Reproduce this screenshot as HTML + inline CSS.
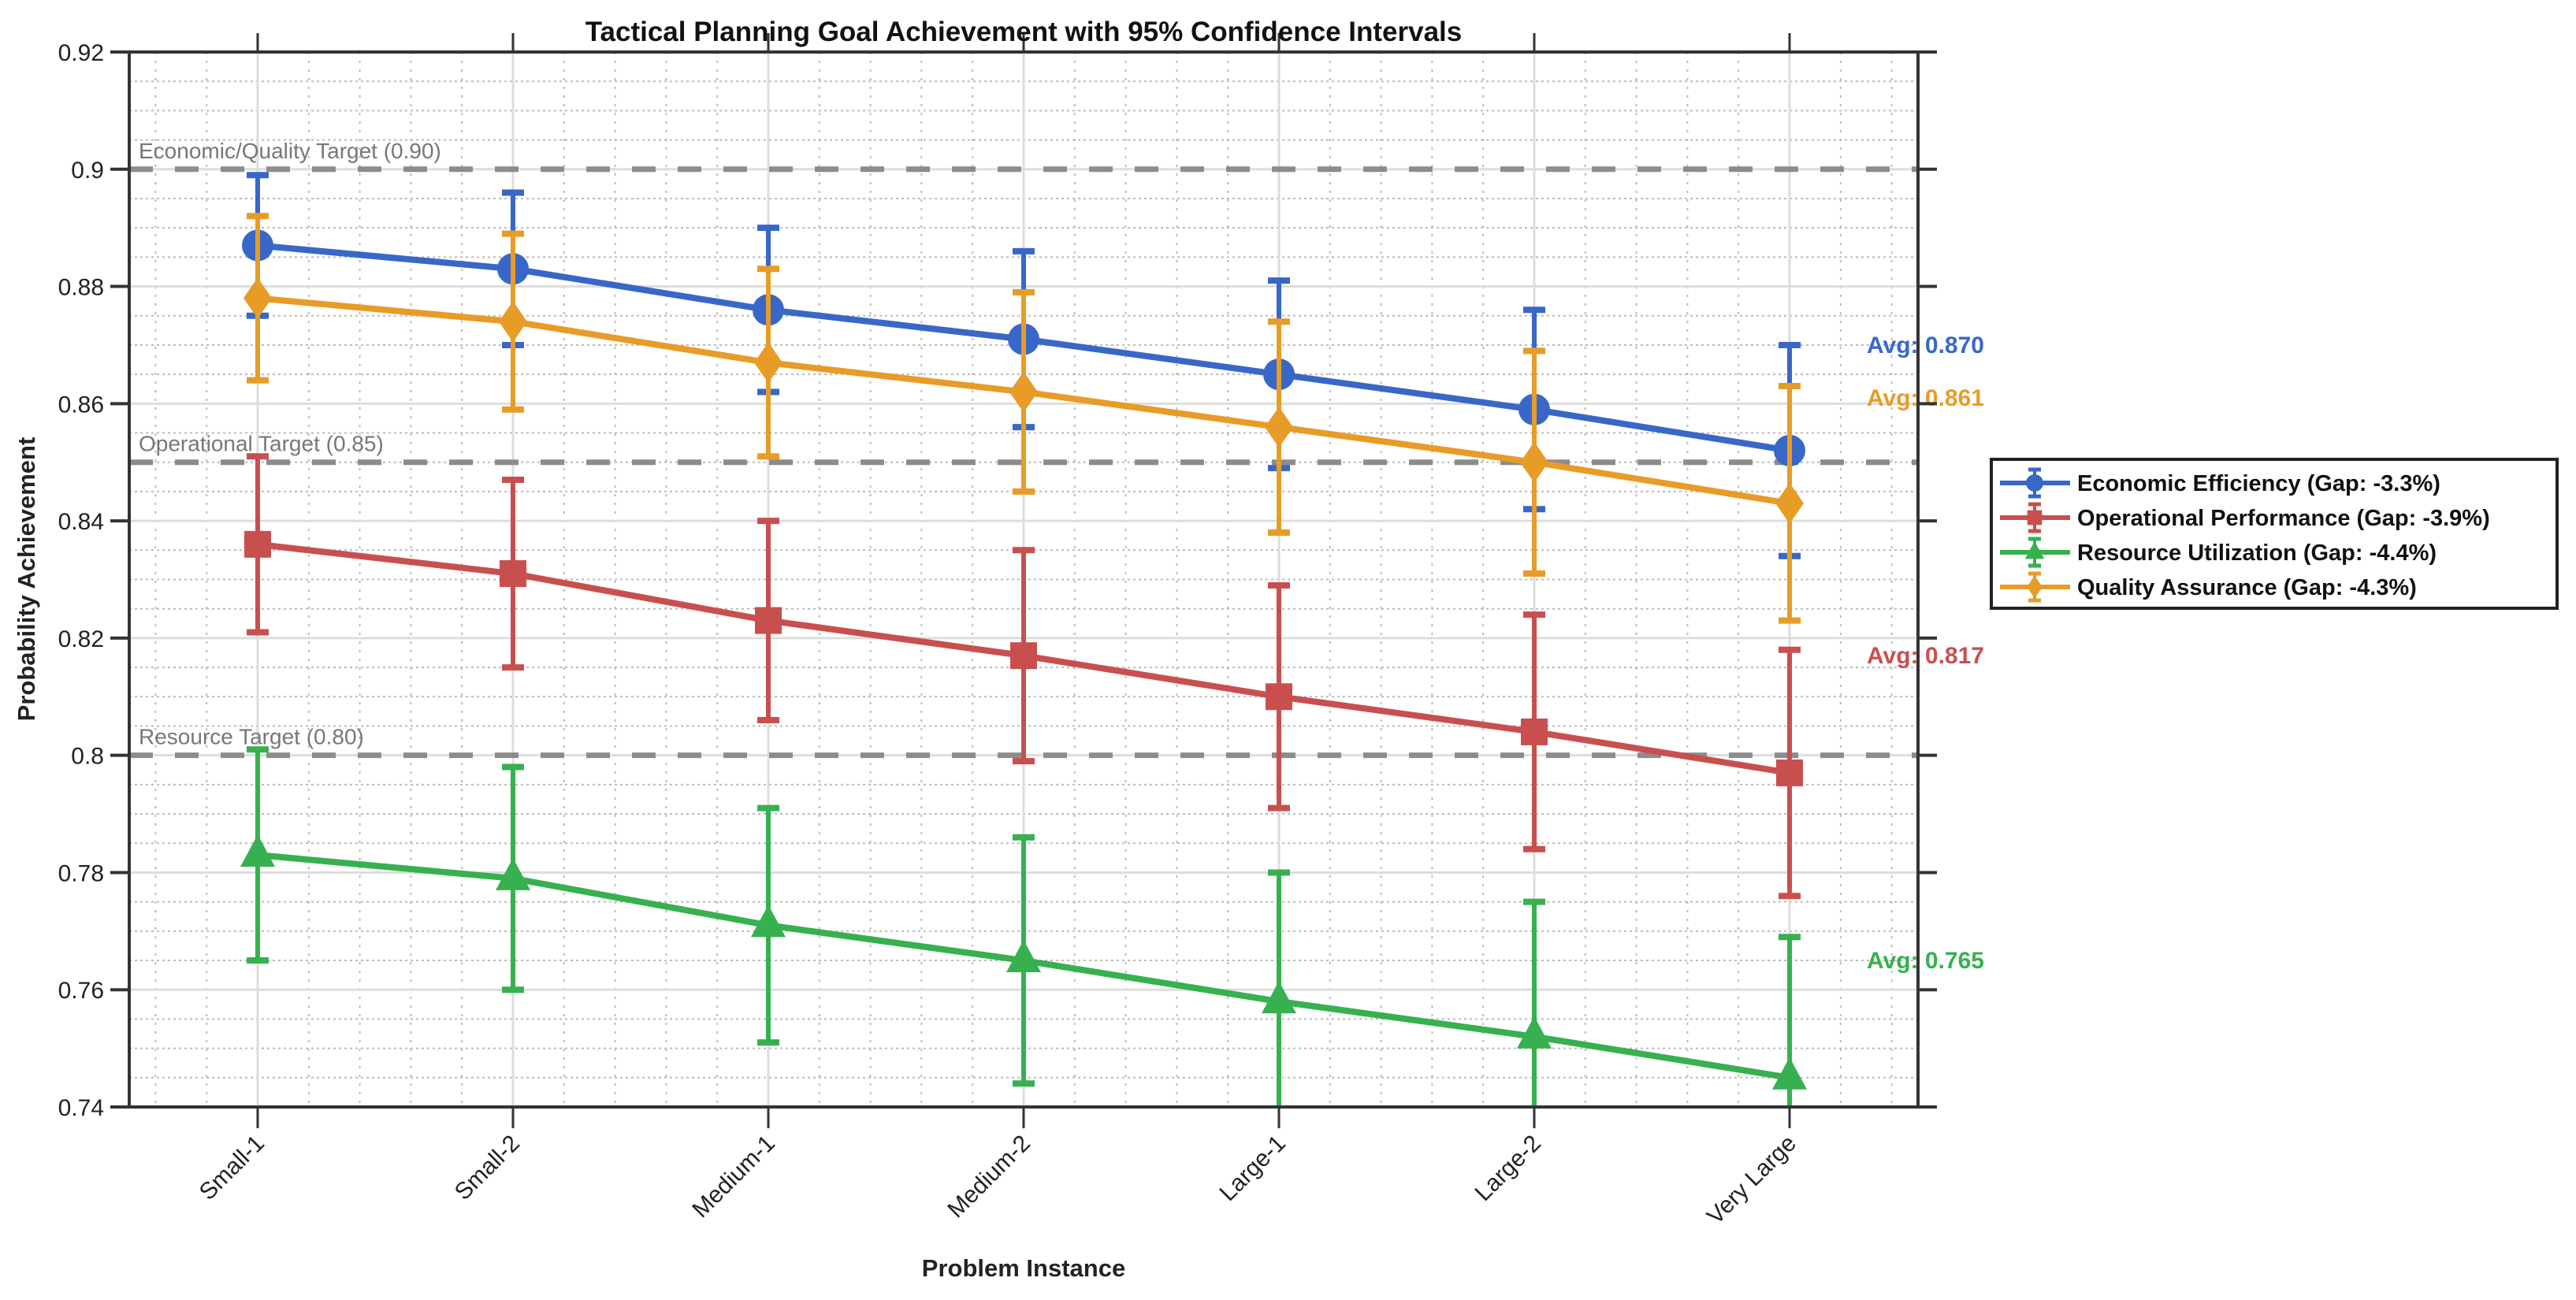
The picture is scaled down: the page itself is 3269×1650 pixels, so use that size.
<!DOCTYPE html>
<html><head><meta charset="utf-8"><style>
html,body{margin:0;padding:0;background:#fff}
svg{display:block;font-family:"Liberation Sans",Arial,sans-serif}
</style></head><body>
<svg id="chart" width="3269" height="1650" viewBox="0 0 3269 1650" xmlns="http://www.w3.org/2000/svg">
<rect width="3269" height="1650" fill="#fff"/>
<g id="grid"></g>
<g id="targets"></g>
<g id="series"></g>
<g id="axes"></g>
<text x="1299" y="52" font-size="35" font-weight="bold" text-anchor="middle" fill="#111">Tactical Planning Goal Achievement with 95% Confidence Intervals</text>
<text transform="translate(44,735) rotate(-90)" font-size="31" font-weight="bold" text-anchor="middle" fill="#222">Probability Achievement</text>
<text x="1299" y="1620" font-size="31" font-weight="bold" text-anchor="middle" fill="#222">Problem Instance</text>
<g id="legend"></g>
</svg>
<script>
const categories = ["Small-1","Small-2","Medium-1","Medium-2","Large-1","Large-2","Very Large"];
const yTicks = [0.74,0.76,0.78,0.8,0.82,0.84,0.86,0.88,0.9,0.92];
const yTickLabels = ["0.74","0.76","0.78","0.8","0.82","0.84","0.86","0.88","0.9","0.92"];
const econVals = [0.887,0.883,0.876,0.871,0.865,0.859,0.852];
const econHi = [0.899,0.896,0.890,0.886,0.881,0.876,0.870];
const econLo = [0.875,0.870,0.862,0.856,0.849,0.842,0.834];
const operVals = [0.836,0.831,0.823,0.817,0.810,0.804,0.797];
const operHi = [0.851,0.847,0.840,0.835,0.829,0.824,0.818];
const operLo = [0.821,0.815,0.806,0.799,0.791,0.784,0.776];
const resVals = [0.783,0.779,0.771,0.765,0.758,0.752,0.745];
const resHi = [0.801,0.798,0.791,0.786,0.780,0.775,0.769];
const resLo = [0.765,0.760,0.751,0.744,0.736,0.729,0.721];
const qualVals = [0.878,0.874,0.867,0.862,0.856,0.850,0.843];
const qualHi = [0.892,0.889,0.883,0.879,0.874,0.869,0.863];
const qualLo = [0.864,0.859,0.851,0.845,0.838,0.831,0.823];
const targetVals = [0.90,0.85,0.80];
const targetLabels = ["Economic/Quality Target (0.90)","Operational Target (0.85)","Resource Target (0.80)"];
const avgVals = [0.870,0.817,0.765,0.861];
const avgLabels = ["Avg: 0.870","Avg: 0.817","Avg: 0.765","Avg: 0.861"];
const seriesNames = ["Economic Efficiency (Gap: -3.3%)","Operational Performance (Gap: -3.9%)","Resource Utilization (Gap: -4.4%)","Quality Assurance (Gap: -4.3%)"];

const L=164,R=2434,T=66,B=1405, X0=327, DX=324, YMIN=0.74, YMAX=0.92;
const xs=i=>X0+i*DX;
const ys=v=>B-(v-YMIN)/(YMAX-YMIN)*(B-T);
const NS="http://www.w3.org/2000/svg";
function mk(parent,tag,attrs){const e=document.createElementNS(NS,tag);for(const k in attrs)e.setAttribute(k,attrs[k]);parent.appendChild(e);return e;}
const grid=document.getElementById('grid'),axes=document.getElementById('axes'),tg=document.getElementById('targets'),sg=document.getElementById('series'),lg=document.getElementById('legend');

for(let k=-12;k<=40;k++){const x=X0+k*DX/5;if(x<=L+2||x>=R-2||k%5===0)continue;
 const l=mk(grid,'line',{x1:x,x2:x,y1:T,y2:B,stroke:'#bbb','stroke-width':2,'stroke-dasharray':'3 8'});
 
 }
for(let v=YMIN+0.005;v<YMAX-0.001;v+=0.005){if(Math.abs((v-YMIN)/0.02-Math.round((v-YMIN)/0.02))<0.01)continue;const y=ys(v);
 const l=mk(grid,'line',{x1:L,x2:R,y1:y,y2:y,stroke:'#bbb','stroke-width':2,'stroke-dasharray':'3 4'});
 
 }
categories.forEach((c,i)=>{const l=mk(grid,'line',{x1:xs(i),x2:xs(i),y1:T,y2:B,stroke:'#ddd','stroke-width':3});
 
 });
yTicks.forEach(v=>{const l=mk(grid,'line',{x1:L,x2:R,y1:ys(v),y2:ys(v),stroke:'#ddd','stroke-width':3});
 
 });

targetVals.forEach((v,i)=>{const y=ys(v);
 const l=mk(tg,'line',{x1:L,x2:R,y1:y,y2:y,stroke:'#8c8c8c','stroke-width':7,'stroke-dasharray':'30 28'});
 
 
 const t=mk(tg,'text',{x:L+12,y:y-14,'font-size':28,fill:'#777'});t.textContent=targetLabels[i];
 
 });

mk(axes,'rect',{x:L,y:T,width:R-L,height:B-T,fill:'none',stroke:'#333','stroke-width':4});
yTicks.forEach((v,i)=>{const y=ys(v);
 mk(axes,'line',{x1:L-24,x2:L,y1:y,y2:y,stroke:'#333','stroke-width':4});
 mk(axes,'line',{x1:R,x2:R+24,y1:y,y2:y,stroke:'#333','stroke-width':4});
 const t=mk(axes,'text',{x:L-32,y:y+11,'font-size':30,'text-anchor':'end',fill:'#222'});t.textContent=yTickLabels[i];
 
 });
categories.forEach((c,i)=>{const x=xs(i);
 mk(axes,'line',{x1:x,x2:x,y1:B,y2:B+27,stroke:'#333','stroke-width':3});
 mk(axes,'line',{x1:x,x2:x,y1:T-24,y2:T,stroke:'#333','stroke-width':3});
 const t=mk(axes,'text',{transform:`translate(${x+10},${B+48}) rotate(-45)`,'font-size':30,'text-anchor':'end',fill:'#222'});t.textContent=c;
 
 });

const defs=[
 {name:'economic',vals:econVals,hi:econHi,lo:econLo,col:'#3867c8',m:'circle'},
 {name:'operational',vals:operVals,hi:operHi,lo:operLo,col:'#c94f4f',m:'square'},
 {name:'resource',vals:resVals,hi:resHi,lo:resLo,col:'#37b050',m:'triangle'},
 {name:'quality',vals:qualVals,hi:qualHi,lo:qualLo,col:'#e79c28',m:'diamond'}];
function marker(g,type,x,y,col,s){s=s||1;
 if(type==='circle')return mk(g,'circle',{cx:x,cy:y,r:20*s,fill:col});
 if(type==='square')return mk(g,'rect',{x:x-17*s,y:y-17*s,width:34*s,height:34*s,fill:col});
 if(type==='triangle')return mk(g,'polygon',{points:`${x},${y-26*s} ${x+22*s},${y+15*s} ${x-22*s},${y+15*s}`,fill:col});
 return mk(g,'polygon',{points:`${x},${y-26*s} ${x+18*s},${y} ${x},${y+26*s} ${x-18*s},${y}`,fill:col});}
const cp=mk(sg,'clipPath',{id:'pc'});
mk(cp,'rect',{x:L,y:T,width:R-L,height:B-T});
defs.forEach((d,si)=>{const g=mk(sg,'g',{'clip-path':'url(#pc)'});
 
 
 const pts=d.vals.map((v,i)=>xs(i)+','+ys(v)).join(' ');
 const pl=mk(g,'polyline',{points:pts,fill:'none',stroke:d.col,'stroke-width':8,'stroke-linejoin':'round'});
 
 
 d.vals.forEach((v,i)=>{const x=xs(i);
  const eb=mk(g,'line',{x1:x,x2:x,y1:ys(d.hi[i]),y2:ys(d.lo[i]),stroke:d.col,'stroke-width':6});
  
  
  [d.hi[i],d.lo[i]].forEach(c=>{mk(g,'line',{x1:x-14,x2:x+14,y1:ys(c),y2:ys(c),stroke:d.col,'stroke-width':8});});
  const m=marker(g,d.m,x,ys(v),d.col);
  
  });
 const t=mk(sg,'text',{x:2369,y:ys(avgVals[si])+10,'font-size':30,'font-weight':'bold',fill:d.col});t.textContent=avgLabels[si];
 
 });

const box=mk(lg,'rect',{x:2527,y:583,width:718,height:189,fill:'#fff',stroke:'#222','stroke-width':4});


defs.forEach((d,i)=>{const y=613+i*44;const g=mk(lg,'g',{});
 
 
 mk(g,'line',{x1:2538,x2:2627,y1:y,y2:y,stroke:d.col,'stroke-width':6});
 mk(g,'line',{x1:2582,x2:2582,y1:y-17,y2:y+17,stroke:d.col,'stroke-width':4});
 mk(g,'line',{x1:2574,x2:2590,y1:y-17,y2:y-17,stroke:d.col,'stroke-width':5});
 mk(g,'line',{x1:2574,x2:2590,y1:y+17,y2:y+17,stroke:d.col,'stroke-width':5});
 marker(g,d.m,2582,y,d.col,0.55);
 const t=mk(g,'text',{x:2636,y:y+10,'font-size':29,'font-weight':'bold',fill:'#111'});t.textContent=seriesNames[i];});
</script>
</body></html>
